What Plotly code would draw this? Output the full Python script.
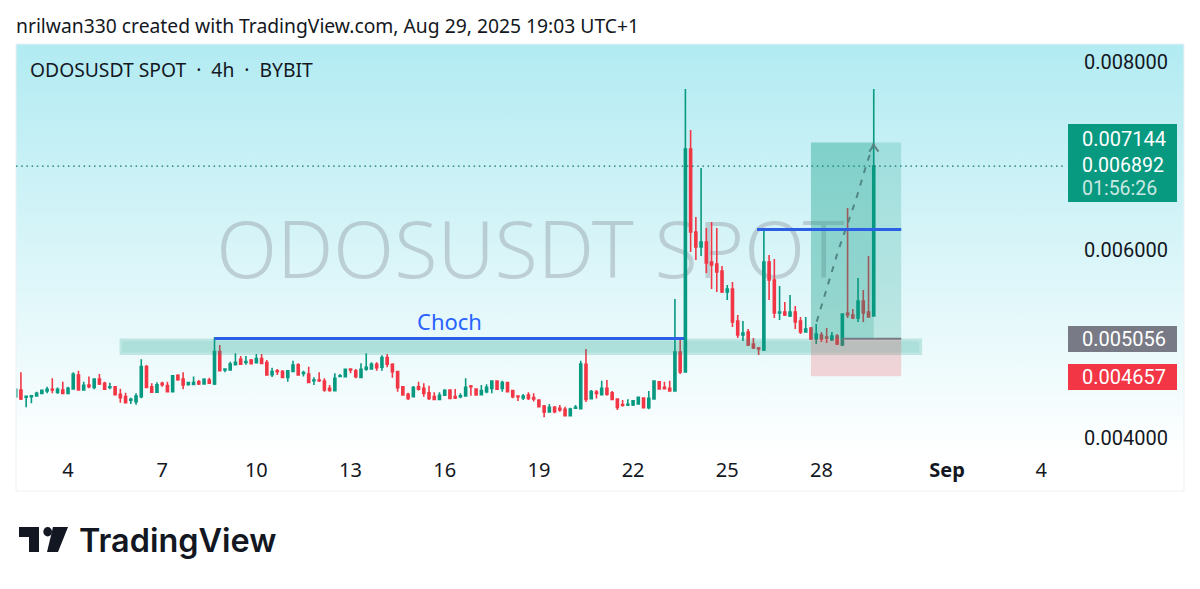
import pandas as pd
import plotly.graph_objects as go

W, H = 1200, 589
# OHLC in millionths of a USDT, one value per 4h bar
opens_u = [4440,4511,4433,4440,4447,4475,4500,4518,4486,4511,
4475,4521,4670,4511,4564,4539,4628,4582,4539,4546,
4465,4440,4401,4387,4440,4759,4546,4486,4582,4557,
4493,4667,4628,4571,4571,4599,4575,4617,4575,4919,
4723,4723,4780,4837,4805,4830,4802,4844,4802,4674,
4716,4706,4645,4709,4780,4688,4681,4610,4617,4606,
4528,4504,4656,4653,4734,4716,4645,4731,4734,4784,
4752,4855,4784,4706,4546,4465,4440,4546,4528,4482,
4440,4411,4454,4511,4440,4440,4447,4553,4521,4461,
4493,4528,4606,4528,4589,4504,4447,4426,4458,4429,
4404,4341,4277,4326,4316,4305,4238,4316,4312,4784,
4419,4489,4461,4528,4482,4415,4355,4351,4351,4362,
4426,4323,4415,4599,4539,4528,4500,4915,4702,7074,
6191,6032,6085,5872,5851,5777,5553,5585,5245,5096,
5128,5000,4957,4936,5872,5681,5330,5340,5298,5340,
5245,5128,5170,5053,5096,5074,5043,5085,4989,5330,
5309,5277,5457,5340,5298]
highs_u = [4530,4699,4446,4453,4493,4511,4546,4635,4536,4599,
4546,4699,4716,4599,4653,4635,4681,4599,4589,4553,
4525,4482,4429,4475,4837,4777,4582,4592,4599,4599,
4670,4677,4699,4599,4653,4617,4635,4642,5071,4989,
4741,4812,4901,4872,4872,4841,4894,4894,4830,4748,
4734,4723,4723,4823,4794,4716,4759,4645,4699,4635,
4564,4688,4681,4731,4734,4734,4794,4901,4805,4805,
4879,4894,4794,4706,4546,4482,4553,4599,4582,4557,
4486,4486,4518,4518,4521,4475,4635,4564,4528,4564,
4571,4606,4606,4610,4599,4511,4454,4468,4486,4475,
4404,4351,4362,4341,4351,4333,4323,4351,4823,4947,
4511,4511,4610,4617,4500,4422,4404,4411,4397,4433,
4429,4500,4606,4599,4599,4610,5479,5064,7713,7277,
6351,6872,6234,6298,6234,5830,5628,5660,5309,5245,
5160,5064,4968,6223,5947,5904,5617,5447,5521,5404,
5287,5287,5181,5213,5128,5170,5128,5106,5319,6447,
5372,5702,5574,5936,7713]
lows_u = [4425,4404,4326,4369,4444,4472,4475,4475,4468,4475,
4475,4518,4511,4511,4528,4518,4564,4511,4518,4458,
4376,4369,4362,4355,4422,4528,4482,4486,4546,4489,
4493,4610,4518,4557,4564,4564,4571,4575,4564,4713,
4699,4723,4777,4780,4780,4784,4802,4787,4663,4649,
4670,4642,4599,4709,4667,4653,4582,4564,4596,4493,
4493,4504,4653,4653,4688,4635,4635,4716,4731,4716,
4716,4752,4642,4493,4458,4404,4433,4504,4440,4404,
4404,4404,4450,4422,4415,4422,4440,4450,4458,4461,
4475,4475,4511,4493,4486,4422,4394,4404,4404,4387,
4326,4220,4277,4262,4280,4238,4238,4309,4312,4383,
4419,4419,4461,4450,4404,4298,4333,4341,4341,4362,
4323,4305,4415,4521,4518,4493,4500,4681,4702,5979,
5894,5936,5755,5585,5553,5543,5468,5181,5064,5032,
4979,4947,4883,4926,5468,5277,5255,5298,5287,5160,
5106,5128,5043,5000,5021,5011,5032,4989,4979,5277,
5266,5234,5234,5287,5298]
closes_u = [4518,4415,4443,4450,4475,4507,4518,4511,4518,4475,
4528,4677,4511,4560,4546,4628,4575,4518,4546,4461,
4429,4376,4411,4447,4759,4539,4486,4567,4567,4493,
4663,4621,4564,4589,4589,4575,4624,4582,4919,4716,
4734,4787,4805,4784,4812,4791,4844,4794,4670,4706,
4706,4645,4716,4777,4670,4695,4592,4617,4610,4511,
4507,4635,4663,4731,4723,4653,4731,4752,4784,4748,
4855,4784,4706,4536,4458,4422,4536,4518,4475,4422,
4411,4454,4507,4422,4426,4450,4539,4546,4458,4504,
4539,4606,4518,4589,4493,4440,4440,4447,4422,4415,
4333,4277,4326,4280,4298,4238,4309,4326,4787,4411,
4493,4475,4528,4465,4411,4326,4348,4358,4397,4433,
4323,4422,4606,4521,4525,4500,4915,4702,7074,6191,
6032,6085,5862,5840,5766,5553,5585,5234,5096,5117,
4989,4957,4947,5872,5681,5330,5340,5309,5340,5234,
5128,5160,5053,5106,5053,5064,5085,5000,5319,5309,
5277,5457,5330,5287,6892]
assert len(opens_u) == len(highs_u) == len(lows_u) == len(closes_u) == 165

bar_times = pd.date_range("2025-08-02 09:00", periods=165, freq="4h")
tick_dates = ["2025-08-04 01:00", "2025-08-07 01:00", "2025-08-10 01:00", "2025-08-13 01:00",
              "2025-08-16 01:00", "2025-08-19 01:00", "2025-08-22 01:00", "2025-08-25 01:00",
              "2025-08-28 01:00", "2025-09-01 01:00", "2025-09-04 01:00"]
tick_texts = ["4", "7", "10", "13", "16", "19", "22", "25", "28", "<b>Sep</b>", "4"]
price_ticks = [0.004, 0.006, 0.008]

last_price = 0.006892
entry_price = 0.005056
target_price = 0.007144
stop_price = 0.004657
choch_level = 0.005059
upper_level = 0.006218
zone_top, zone_bottom = 0.005059, 0.004883
zone_in_top, zone_in_bottom = 0.005030, 0.004910
path_times = ["2025-08-27 21:24", "2025-08-28 14:00", "2025-08-29 03:18", "2025-08-29 11:42", "2025-08-29 17:00"]
path_prices = [0.005237, 0.006000, 0.006532, 0.006922, 0.007135]
head_times = ["2025-08-29 13:36", "2025-08-29 17:00", "2025-08-29 20:36"]
head_prices = [0.007046, 0.007117, 0.007046]

TEAL, RED, INK, GREY = "#089981", "#f23645", "#131722", "#787b86"
FONT = "Noto Sans"
NUM_FONT = "Roboto"

def px(x): return x / W
def py(y): return 1 - y / H

fig = go.Figure()
# background panel and watermark live on a pixel-scaled subplot under the chart
fig.add_trace(go.Scatter(x=[16, 1184, 1184, 16], y=[44, 44, 456, 456], fill="toself", mode="none",
                         fillgradient=dict(type="vertical", colorscale=[[0, "#ffffff"], [1, "#b2ebf2"]]),
                         hoverinfo="skip", showlegend=False, xaxis="x", yaxis="y"))
fig.add_trace(go.Scatter(x=[530.5], y=[258], mode="text", text=["ODOSUSDT SPOT"],
                         textfont=dict(family=FONT, size=79.2, weight=300, color="rgba(120,123,134,0.32)"),
                         hoverinfo="skip", showlegend=False, xaxis="x", yaxis="y"))
fig.add_trace(go.Candlestick(x=bar_times,
                             open=[v * 1e-6 for v in opens_u], high=[v * 1e-6 for v in highs_u],
                             low=[v * 1e-6 for v in lows_u], close=[v * 1e-6 for v in closes_u],
                             increasing=dict(line=dict(color=TEAL, width=1.6), fillcolor=TEAL),
                             decreasing=dict(line=dict(color=RED, width=1.6), fillcolor=RED),
                             whiskerwidth=0, showlegend=False, xaxis="x2", yaxis="y2"))
fig.add_trace(go.Scatter(x=path_times, y=path_prices, mode="lines",
                         line=dict(color=GREY, width=2, dash="6px,7px"),
                         hoverinfo="skip", showlegend=False, xaxis="x2", yaxis="y2"))
fig.add_trace(go.Scatter(x=head_times, y=head_prices, mode="lines", line=dict(color=GREY, width=2),
                         hoverinfo="skip", showlegend=False, xaxis="x2", yaxis="y2"))

def data_rect(x0, x1, y0, y1, fill):
    return dict(type="rect", xref="x2", yref="y2", x0=x0, x1=x1, y0=y0, y1=y1,
                fillcolor=fill, line=dict(width=0), layer="above")

def data_line(x0, x1, y, color, width):
    return dict(type="line", xref="x2", yref="y2", x0=x0, x1=x1, y0=y, y1=y,
                line=dict(color=color, width=width), layer="above")

def paper_rect(x0, x1, y0, y1, fill):
    return dict(type="rect", xref="paper", yref="paper", x0=px(x0), x1=px(x1), y0=py(y0), y1=py(y1),
                fillcolor=fill, line=dict(width=0), layer="above")

def paper_path(points, fill):
    d = "M" + " L".join(f"{px(a):.5f},{py(b):.5f}" for a, b in points) + " Z"
    return dict(type="path", xref="paper", yref="paper", path=d, fillcolor=fill, line=dict(width=0), layer="above")

shapes = [
    dict(type="rect", xref="paper", yref="paper", x0=px(16), x1=px(1184), y0=py(44), y1=py(491),
         fillcolor="rgba(0,0,0,0)", line=dict(color="#eef0f4", width=1), layer="above"),
    dict(type="line", xref="paper", yref="y2", x0=px(16), x1=px(1066), y0=last_price, y1=last_price,
         line=dict(color="#0a7060", width=1.3, dash="1.5px,3.7px"), layer="above"),
    data_rect("2025-08-05 16:24", "2025-08-31 06:00", zone_top, zone_bottom, "rgba(8,153,129,0.2)"),
    data_rect("2025-08-05 18:18", "2025-08-31 03:42", zone_in_top, zone_in_bottom, "rgba(8,153,129,0.09)"),
    data_rect("2025-08-27 17:00", "2025-08-30 14:00", entry_price, target_price, "rgba(8,153,129,0.2)"),
    data_rect("2025-08-27 17:00", "2025-08-29 17:00", entry_price, target_price, "rgba(8,153,129,0.2)"),
    data_rect("2025-08-27 17:00", "2025-08-30 14:00", stop_price, entry_price, "rgba(242,54,69,0.2)"),
    data_line("2025-08-28 17:00", "2025-08-30 14:00", entry_price, GREY, 2),
    data_line("2025-08-08 17:00", "2025-08-23 16:00", choch_level, "#2a5fe6", 3),
    data_line("2025-08-25 23:48", "2025-08-30 14:00", upper_level, "#2a5fe6", 3),
    paper_rect(1068, 1177, 124, 202, TEAL),
    paper_rect(1068, 1177, 326, 352, GREY),
    paper_rect(1068, 1177, 364, 390, RED),
    # TradingView mark
    paper_path([(19, 527), (39, 527), (39, 552), (29, 552), (29, 537), (19, 537)], "#131722"),
    paper_path([(53, 527), (68, 527), (58, 552), (47, 552)], "#131722"),
    dict(type="circle", xref="paper", yref="paper", x0=px(43.3), x1=px(52), y0=py(527), y1=py(536.5),
         fillcolor="#131722", line=dict(width=0), layer="above"),
]

def label(text, x, y, size=20, color=INK, anchor="left", family=FONT, weight=None):
    f = dict(family=family, size=size, color=color)
    if weight:
        f["weight"] = weight
    return dict(text=text, x=px(x), y=py(y), xref="paper", yref="paper", xanchor=anchor, yanchor="middle",
                showarrow=False, font=f)

annotations = [
    label("nrilwan330 created with TradingView.com, Aug 29, 2025 19:03 UTC+1", 14, 26, size=19.3),
    label("ODOSUSDT SPOT  ·  4h  ·  BYBIT", 28, 69.5, size=19.3),
    label("Choch", 414.5, 321, size=22, color="#2962ff"),
    label("0.007144", 1080, 139, color="#ffffff", family=NUM_FONT),
    label("0.006892", 1080, 165.5, size=19.5, color="#ffffff", family=NUM_FONT),
    label("01:56:26", 1080, 188.5, size=19.5, color="rgba(255,255,255,0.8)", family=NUM_FONT),
    label("0.005056", 1080, 339, color="#ffffff", family=NUM_FONT),
    label("0.004657", 1080, 377, color="#ffffff", family=NUM_FONT),
    label("TradingView", 76.5, 540, size=32.4, family="Inter", weight=600),
]

fig.update_layout(
    width=W, height=H, margin=dict(l=0, r=0, t=0, b=0),
    paper_bgcolor="#ffffff", plot_bgcolor="rgba(0,0,0,0)", showlegend=False,
    font=dict(family=FONT, color=INK, size=20),
    boxgap=0.45,
    xaxis=dict(domain=[px(16), px(1184)], range=[16, 1184], visible=False, fixedrange=True),
    yaxis=dict(domain=[py(456), py(44)], range=[456, 44], visible=False, fixedrange=True),
    xaxis2=dict(domain=[px(16), px(1066)], anchor="y2", type="date",
                range=["2025-08-02 09:14", "2025-09-04 19:59"],
                tickmode="array", tickvals=tick_dates, ticktext=tick_texts, ticks="",
                showgrid=False, zeroline=False, showline=False, rangeslider=dict(visible=False),
                tickfont=dict(family=FONT, size=20, color=INK)),
    yaxis2=dict(domain=[py(456), py(44)], anchor="x2", side="right",
                range=[0.0038085, 0.0081915], tickmode="array", tickvals=price_ticks, tickformat=".6f",
                ticks="outside", ticklen=13, tickcolor="rgba(0,0,0,0)", showgrid=False, zeroline=False, showline=False,
                tickfont=dict(family=NUM_FONT, size=20, color=INK)),
    shapes=shapes, annotations=annotations,
)

fig.write_html("out.html", config=dict(displayModeBar=False),
               post_script="document.body.style.margin='0';document.body.style.overflow='hidden';")
